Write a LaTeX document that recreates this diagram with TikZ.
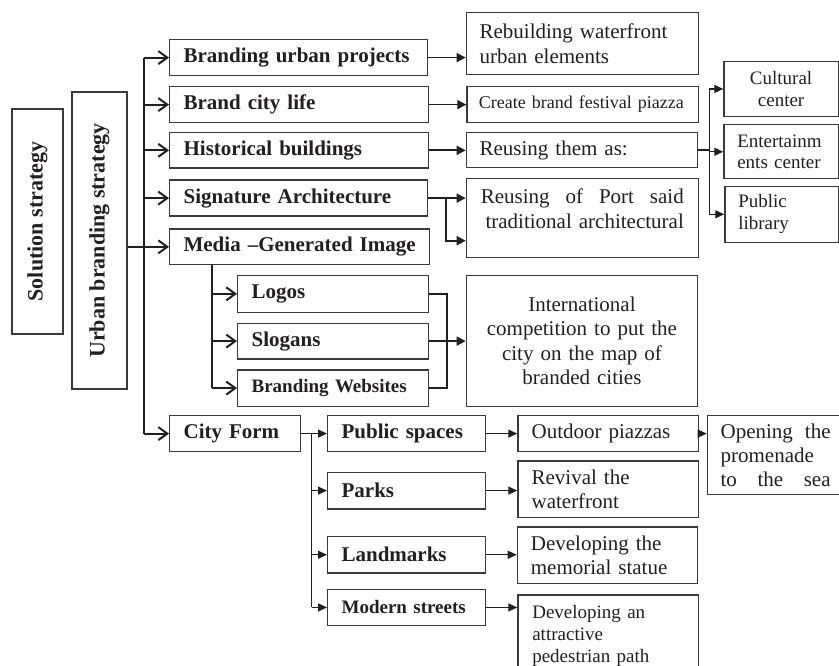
\documentclass[tikz,border=0pt]{standalone}
\usepackage{fontspec}
\setmainfont{Liberation Serif}
\usetikzlibrary{arrows.meta}
\definecolor{ink}{HTML}{231F20}
\definecolor{edge}{HTML}{3A3A3A}
\tikzset{
  box/.style={draw=edge, line width=1.2pt, anchor=north west, inner xsep=14pt, inner ysep=0pt, align=left, text=ink},
  hd/.style={font=\fontsize{21}{24}\selectfont\bfseries},
  hds/.style={font=\fontsize{19}{22}\selectfont\bfseries},
  txt/.style={font=\fontsize{21}{24.5}\selectfont},
  txts/.style={font=\fontsize{19}{21.7}\selectfont},
  link/.style={draw=ink, line width=2pt},
  barb/.style={link, -{Straight Barb[length=9pt,width=13pt]}},
  arr/.style={draw=ink, line width=1.8pt, -{Triangle[length=9pt,width=9pt]}},
  thin/.style={draw=ink, line width=1.2pt},
  thinarr/.style={thin, -{Triangle[length=9pt,width=8pt]}},
}
\begin{document}
\begin{tikzpicture}[x=1pt,y=-1pt]
  \useasboundingbox (0,0) rectangle (839,666);

  \node[box, font=\fontsize{22}{24}\selectfont\bfseries, rotate=90, anchor=center, inner xsep=0pt, align=center,
        minimum width=225pt, minimum height=51pt] (sol) at (37.5,221.5) {Solution strategy};
  \node[box, font=\fontsize{22}{24}\selectfont\bfseries, rotate=90, anchor=center, inner xsep=0pt, align=center,
        minimum width=297pt, minimum height=55pt] (ubs) at (99.5,240.5) {Urban branding strategy};

  \node[box, hd, text width=230pt, minimum height=36pt] (projects) at (169,39) {Branding urban projects};
  \node[box, hd, text width=231pt, minimum height=36pt] (life) at (169,86) {Brand city life};
  \node[box, hd, text width=231pt, minimum height=35.5pt] (hist) at (169,132) {Historical buildings};
  \node[box, hd, text width=230pt, minimum height=36pt] (sig) at (169,179.5) {Signature Architecture};
  \node[box, hd, text width=231.5pt, minimum height=35.5pt] (media) at (169,228.5) {\mbox{Media --Generated Image}};
  \node[box, hd, text width=163pt, minimum height=36.5pt] (logos) at (237,275) {Logos};
  \node[box, hd, text width=163pt, minimum height=35.6pt] (slogans) at (237,322.7) {Slogans};
  \node[box, hds, text width=163pt, minimum height=36.4pt] (sites) at (237,369.3) {Branding Websites};
  \node[box, hd, text width=102.7pt, minimum height=36pt] (form) at (169,415) {City Form};
  \node[box, hd, text width=130pt, minimum height=36pt] (spaces) at (327,415) {Public spaces};
  \node[box, hd, text width=130pt, minimum height=36.6pt] (parks) at (327,471.7) {Parks};
  \node[box, hd, text width=130pt, minimum height=36.3pt] (marks) at (327,536) {Landmarks};
  \node[box, hds, text width=130pt, minimum height=36.3pt] (streets) at (327,588.7) {\mbox{Modern streets}};

  \node[box, txt, inner xsep=13.3pt, text width=205.4pt, minimum height=62.3pt] (rebuild) at (465.7,12) {Rebuilding waterfront\\urban elements};
  \node[box, font=\fontsize{18}{21}\selectfont, inner xsep=12pt, text width=207.4pt, minimum height=36pt] (festival) at (466.3,85.7) {\mbox{Create brand festival piazza}};
  \node[box, txt, inner xsep=13.3pt, text width=204.4pt, minimum height=35.6pt] (reuse) at (465.7,131.7) {Reusing them as:};
  \node[box, txt, inner xsep=14.5pt, text width=203pt, minimum height=79.3pt, text depth=43pt, align=right] (port) at (465.7,177.7)
    {\makebox[203pt]{Reusing\hfill of\hfill Port\hfill said}\\traditional architectural};
  \node[box, txt, text width=203.3pt, minimum height=130.7pt, align=center] (intl) at (465.7,275)
    {International\\competition to put the\\city on the map of\\branded cities};
  \node[box, txts, inner xsep=10pt, text width=94.4pt, minimum height=54.7pt, align=center] (cult) at (723.3,61) {Cultural\\center};
  \node[box, txts, inner xsep=13.4pt, text width=87.6pt, minimum height=54.3pt] (ent) at (723.3,124) {Entertainm\\ents center};
  \node[box, txts, inner xsep=13.4pt, text width=86.6pt, minimum height=56pt] (lib) at (724.3,185.7) {Public\\library};
  \node[box, txt, inner xsep=13.7pt, text width=153pt, minimum height=36pt] (outdoor) at (517.3,415) {Outdoor piazzas};
  \node[box, font=\fontsize{21}{24}\selectfont, inner xsep=13.3pt, text width=110pt, minimum height=79pt] (sea) at (706.7,415)
    {\makebox[110pt]{Opening\hfill the}\\promenade\\\makebox[110pt]{to\hfill the\hfill sea}};
  \node[box, txt, inner xsep=13.7pt, text width=153pt, minimum height=56.7pt] (revival) at (517.3,460.3) {Revival the\\waterfront};
  \node[box, txt, inner xsep=13.6pt, text width=152.8pt, minimum height=56.4pt] (statue) at (516.7,526.3) {Developing the\\memorial statue};
  \node[box, txts, inner xsep=14.4pt, text width=151.6pt, minimum height=82pt] (path) at (517.3,594.3) {Developing an\\attractive\\pedestrian path};

  \coordinate (trunk) at (144.3,0);
  \coordinate (mtrunk) at (211.7,0);
  \coordinate (ftrunk) at (311.7,0);
  \coordinate (mfork) at (446.7,0);
  \coordinate (rfork) at (709.3,0);
  \coordinate (sigfork) at (445.7,240.7);

  \draw[link] (trunk |- projects.west) -- (trunk |- form.west);
  \draw[barb] (ubs.south |- media.west) -- (media.west);
  \foreach \n in {projects,life,hist,sig,form}
    \draw[barb] (trunk |- \n.west) -- (\n.west);

  \draw[link] (mtrunk |- media.south) -- (mtrunk |- sites.west);
  \foreach \n in {logos,slogans,sites}
    \draw[barb] (mtrunk |- \n.west) -- (\n.west);

  \draw[thin] (ftrunk |- form.east) -- (ftrunk |- streets.west);
  \draw[thinarr] (form.east) -- (spaces.west);
  \foreach \n in {parks,marks,streets}
    \draw[thinarr] (ftrunk |- \n.west) -- (\n.west);

  \draw[arr] (projects.east) -- (rebuild.west |- projects.east);
  \draw[arr] (life.east) -- (festival.west |- life.east);
  \draw[arr] (hist.east) -- (reuse.west |- hist.east);
  \draw[arr] (sig.east) -- (port.west |- sig.east);
  \draw[arr] (sigfork |- sig.east) -- (sigfork) -- (port.west |- sigfork);

  \draw[link] (logos.east) -- (mfork |- logos.east) -- (mfork |- sites.east) -- (sites.east);
  \draw[arr] (slogans.east) -- (intl.west |- slogans.east);

  \draw[thin] (reuse.east) -- (rfork |- reuse.east);
  \draw[thin] (rfork |- cult.west) -- (rfork |- lib.west);
  \foreach \n in {cult,ent,lib}
    \draw[thinarr] (rfork |- \n.west) -- (\n.west);

  \draw[thinarr] (spaces.east) -- (outdoor.west |- spaces.east);
  \draw[thinarr] (outdoor.east) -- (sea.west |- outdoor.east);
  \draw[thinarr] (parks.east) -- (revival.west |- parks.east);
  \draw[thinarr] (marks.east) -- (statue.west |- marks.east);
  \draw[thinarr] (streets.east) -- (path.west |- streets.east);
\end{tikzpicture}
\end{document}
